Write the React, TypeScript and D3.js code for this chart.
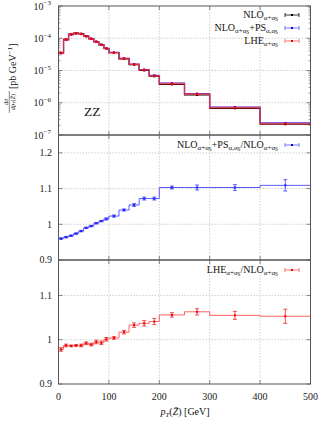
import React from "react";
import * as d3 from "d3";

const binEdges = [0, 10, 20, 30, 40, 50, 60, 70, 80, 90, 100, 120, 140, 160, 180, 200, 250, 300, 400, 500];
const nloValues = [3.56e-5, 9.2e-5, 1.34e-4, 1.44e-4, 1.38e-4, 1.16e-4, 9.7e-5, 7.8e-5, 6.3e-5, 4.8e-5, 3.56e-5, 2.3e-5, 1.51e-5, 1.0e-5, 6.6e-6, 3.7e-6, 1.74e-6, 6.7e-7, 2.15e-7];
const psValues = [3.42e-5, 8.87e-5, 1.3e-4, 1.4e-4, 1.35e-4, 1.15e-4, 9.65e-5, 7.82e-5, 6.36e-5, 4.87e-5, 3.64e-5, 2.39e-5, 1.59e-5, 1.07e-5, 7.08e-6, 4.08e-6, 1.92e-6, 7.39e-7, 2.38e-7];
const lheValues = [3.48e-5, 9.08e-5, 1.32e-4, 1.42e-4, 1.36e-4, 1.15e-4, 9.59e-5, 7.76e-5, 6.26e-5, 4.8e-5, 3.57e-5, 2.34e-5, 1.56e-5, 1.04e-5, 6.87e-6, 3.91e-6, 1.85e-6, 7.07e-7, 2.26e-7];
const psRatio = [0.96, 0.964, 0.968, 0.974, 0.981, 0.99, 0.995, 1.003, 1.009, 1.015, 1.023, 1.04, 1.054, 1.072, 1.072, 1.103, 1.103, 1.103, 1.109];
const psRatioErr = [0.002, 0.002, 0.002, 0.002, 0.002, 0.002, 0.002, 0.002, 0.002, 0.003, 0.003, 0.003, 0.004, 0.004, 0.004, 0.004, 0.007, 0.008, 0.016];
const lheRatio = [0.978, 0.987, 0.986, 0.987, 0.987, 0.992, 0.989, 0.995, 0.993, 1.001, 1.004, 1.017, 1.033, 1.037, 1.041, 1.056, 1.063, 1.055, 1.053];
const lheRatioErr = [0.004, 0.003, 0.002, 0.002, 0.003, 0.003, 0.003, 0.004, 0.004, 0.004, 0.003, 0.004, 0.005, 0.006, 0.007, 0.005, 0.007, 0.009, 0.016];
const xTicks = [0, 100, 200, 300, 400, 500];
const logTicks = [-7, -6, -5, -4, -3];
const ratioTicksMid = [0.9, 1, 1.1, 1.2];
const ratioTicksBot = [0.9, 1, 1.1];

const FONT = "'Liberation Serif', 'DejaVu Serif', serif";
const L = 58.5, R = 310.5;
const P1 = [6, 135], P2 = [135, 260], P3 = [260, 384];

const x = d3.scaleLinear().domain([0, 500]).range([L, R]);
const y1 = d3.scaleLog().domain([1e-7, 1e-3]).range([P1[1], P1[0]]);
const y2 = d3.scaleLinear().domain([0.9, 1.25]).range([P2[1], P2[0]]);
const y3 = d3.scaleLinear().domain([0.9, 1.18]).range([P3[1], P3[0]]);

function stepPath(vals: number[], ys: any) {
  const pts: [number, number][] = vals.map((v, i) => [binEdges[i], v]);
  pts.push([binEdges[binEdges.length - 1], vals[vals.length - 1]]);
  return d3.line<[number, number]>().x(d => x(d[0])).y(d => ys(d[1])).curve(d3.curveStepAfter)(pts) || "";
}
const centers = binEdges.slice(0, -1).map((e, i) => (e + binEdges[i + 1]) / 2);

function Frame({ top, bottom, ys, yt, log }: any) {
  const els: any[] = [];
  xTicks.slice(1, -1).forEach(t => els.push(<line key={"gx" + t} x1={x(t)} x2={x(t)} y1={top} y2={bottom} stroke="#bbb" strokeWidth={0.7} strokeDasharray="1.5,1.5" />));
  yt.forEach((t: number) => {
    const yy = ys(t);
    if (yy > top + 1 && yy < bottom - 1) els.push(<line key={"gy" + t} x1={L} x2={R} y1={yy} y2={yy} stroke="#bbb" strokeWidth={0.7} strokeDasharray="1.5,1.5" />);
  });
  xTicks.forEach(t => {
    els.push(<line key={"xt" + t} x1={x(t)} x2={x(t)} y1={bottom} y2={bottom - 4} stroke="#555" strokeWidth={0.7} />);
    els.push(<line key={"xtt" + t} x1={x(t)} x2={x(t)} y1={top} y2={top + 4} stroke="#555" strokeWidth={0.7} />);
  });
  yt.forEach((t: number) => {
    const yy = ys(t);
    els.push(<line key={"yt" + t} x1={L} x2={L + 4} y1={yy} y2={yy} stroke="#555" strokeWidth={0.7} />);
    els.push(<line key={"ytr" + t} x1={R} x2={R - 4} y1={yy} y2={yy} stroke="#555" strokeWidth={0.7} />);
  });
  if (log) {
    for (let e = -7; e < -3; e++) {
      for (let m = 2; m < 10; m++) {
        const yy = ys(m * Math.pow(10, e));
        els.push(<line key={"ml" + e + m} x1={L} x2={L + 2} y1={yy} y2={yy} stroke="#555" strokeWidth={0.6} />);
        els.push(<line key={"mr" + e + m} x1={R} x2={R - 2} y1={yy} y2={yy} stroke="#555" strokeWidth={0.6} />);
      }
    }
  }
  els.push(<rect key="frame" x={L} y={top} width={R - L} height={bottom - top} fill="none" stroke="#555" strokeWidth={1} />);
  return <g>{els}</g>;
}

function ErrPoints({ vals, errs, ys, color, r }: any) {
  return (
    <g>
      {vals.map((v: number, i: number) => {
        const cx = x(centers[i]);
        const e = errs ? errs[i] : 0;
        return (
          <g key={i}>
            {e > 0 && (
              <g stroke={color} strokeWidth={0.7}>
                <line x1={cx} x2={cx} y1={ys(v - e)} y2={ys(v + e)} />
                <line x1={cx - 2} x2={cx + 2} y1={ys(v - e)} y2={ys(v - e)} />
                <line x1={cx - 2} x2={cx + 2} y1={ys(v + e)} y2={ys(v + e)} />
              </g>
            )}
            <rect x={cx - r} y={ys(v) - r} width={2 * r} height={2 * r} fill={color} />
          </g>
        );
      })}
    </g>
  );
}

function LegendSym({ xx, yy, color, light }: any) {
  return (
    <g stroke={light || color} strokeWidth={0.8}>
      <line x1={xx} x2={xx + 14} y1={yy} y2={yy} />
      <line x1={xx} x2={xx} y1={yy - 2} y2={yy + 2} />
      <line x1={xx + 14} x2={xx + 14} y1={yy - 2} y2={yy + 2} />
      <rect x={xx + 6} y={yy - 1} width={2} height={2} fill={color} stroke="none" />
    </g>
  );
}

const SUB = 7;
const SS = 5.2;
function Label({ segs, k }: { segs: [string, string][]; k: string }) {
  const out: any[] = [];
  segs.forEach((s, i) => {
    out.push(<tspan key={k + i + "m"} fontSize={10} dy={i === 0 ? 0 : -3.1}>{s[0]}</tspan>);
    out.push(<tspan key={k + i + "s"} fontSize={SUB} dy={2.2}>{s[1]}</tspan>);
    out.push(<tspan key={k + i + "S"} fontSize={SS} dy={0.9}>S</tspan>);
  });
  return <>{out}</>;
}

export default function App() {
  const fs = 10;
  return (
    <svg width={319} height={421} style={{ position: "absolute", left: 0, top: 0 }} fontFamily={FONT}>
      <rect width={319} height={421} fill="white" />
      {/* Panel 1 */}
      <Frame top={P1[0]} bottom={P1[1]} ys={y1} yt={logTicks.map(e => Math.pow(10, e))} log />
      <path d={stepPath(nloValues, y1)} fill="none" stroke="#000" strokeWidth={1.1} />
      <path d={stepPath(psValues, y1)} fill="none" stroke="#3a3aff" strokeWidth={1.1} />
      <path d={stepPath(lheValues, y1)} fill="none" stroke="#ff3030" strokeOpacity={0.7} strokeWidth={1.6} />
      <ErrPoints vals={nloValues} ys={y1} color="#000" r={1} />
      <ErrPoints vals={psValues} ys={y1} color="#2020ff" r={1} />
      <ErrPoints vals={lheValues} ys={y1} color="#ff0000" r={1.2} />
      {logTicks.map(e => (
        <text key={"lt" + e} x={51} y={y1(Math.pow(10, e)) + 3.5} textAnchor="end" fontSize={fs} fill="#222">
          10<tspan fontSize={7} dy={-4.2}>{"−" + -e}</tspan>
        </text>
      ))}
      <text x={84} y={116} fontSize={13.5} fill="#111">ZZ</text>
      {/* legend 1 */}
      <text x={278} y={17.5} textAnchor="end" fontSize={fs} fill="#111">
        <Label k="a" segs={[["NLO", "α+α"]]} />
      </text>
      <LegendSym xx={285} yy={15} color="#000" />
      <text x={278} y={30.5} textAnchor="end" fontSize={fs} fill="#111">
        <Label k="b" segs={[["NLO", "α+α"], ["+PS", "α,α"]]} />
      </text>
      <LegendSym xx={285} yy={28} color="#0000ff" light="#5555ff" />
      <text x={278} y={44} textAnchor="end" fontSize={fs} fill="#111">
        <Label k="c" segs={[["LHE", "α+α"]]} />
      </text>
      <LegendSym xx={285} yy={41} color="#ff0000" light="#ff5555" />

      {/* Panel 2 */}
      <Frame top={P2[0]} bottom={P2[1]} ys={y2} yt={ratioTicksMid} />
      <path d={stepPath(psRatio, y2)} fill="none" stroke="#5a5aff" strokeWidth={1} />
      <ErrPoints vals={psRatio} errs={psRatioErr} ys={y2} color="#2020ff" r={1} />
      {ratioTicksMid.map(t => (
        <text key={"m" + t} x={52} y={y2(t) + 3.4} textAnchor="end" fontSize={fs} fill="#222">{t === 1 ? "1" : t.toFixed(1)}</text>
      ))}
      <text x={278} y={147.5} textAnchor="end" fontSize={fs} fill="#111">
        <Label k="d" segs={[["NLO", "α+α"], ["+PS", "α,α"], ["/NLO", "α+α"]]} />
      </text>
      <LegendSym xx={285} yy={145} color="#0000ff" light="#5555ff" />

      {/* Panel 3 */}
      <Frame top={P3[0]} bottom={P3[1]} ys={y3} yt={ratioTicksBot} />
      <path d={stepPath(lheRatio, y3)} fill="none" stroke="#ff6060" strokeWidth={1} />
      <ErrPoints vals={lheRatio} errs={lheRatioErr} ys={y3} color="#ee0000" r={1} />
      {ratioTicksBot.map(t => (
        <text key={"b" + t} x={52} y={y3(t) + 3.4} textAnchor="end" fontSize={fs} fill="#222">{t === 1 ? "1" : t.toFixed(1)}</text>
      ))}
      <text x={278} y={272.5} textAnchor="end" fontSize={fs} fill="#111">
        <Label k="e" segs={[["LHE", "α+α"], ["/NLO", "α+α"]]} />
      </text>
      <LegendSym xx={285} yy={270} color="#ff0000" light="#ff5555" />

      {/* x tick labels */}
      {xTicks.map(t => (
        <text key={"xl" + t} x={x(t)} y={399.5} textAnchor="middle" fontSize={fs} fill="#222">{t}</text>
      ))}
      <text x={185} y={415} textAnchor="middle" fontSize={fs} fill="#111">
        <tspan fontStyle="italic">p</tspan>
        <tspan fontSize={SUB} fontStyle="italic" dy={2}>T</tspan>
        <tspan dy={-2}>(</tspan>
        <tspan fontStyle="italic">Z̄</tspan>
        <tspan>) [GeV]</tspan>
      </text>

      {/* y axis label */}
      <g transform="rotate(-90)" fill="#111">
        <text x={-102} y={7.5} textAnchor="middle" fontSize={6.2}><tspan fontStyle="italic">dσ</tspan></text>
        <line x1={-113} x2={-91} y1={9.3} y2={9.3} stroke="#111" strokeWidth={0.5} />
        <text x={-102} y={15.2} textAnchor="middle" fontSize={6.2}>
          <tspan fontStyle="italic">dp</tspan>
          <tspan fontSize={4.5} dy={1} fontStyle="italic">T</tspan>
          <tspan dy={-1}>(</tspan>
          <tspan fontStyle="italic">Z̄</tspan>
          <tspan>)</tspan>
        </text>
        <text x={-89} y={15.5} textAnchor="start" fontSize={fs}>
          [pb GeV<tspan fontSize={7} dy={-4}>−1</tspan><tspan dy={4}>]</tspan>
        </text>
      </g>
    </svg>
  );
}
